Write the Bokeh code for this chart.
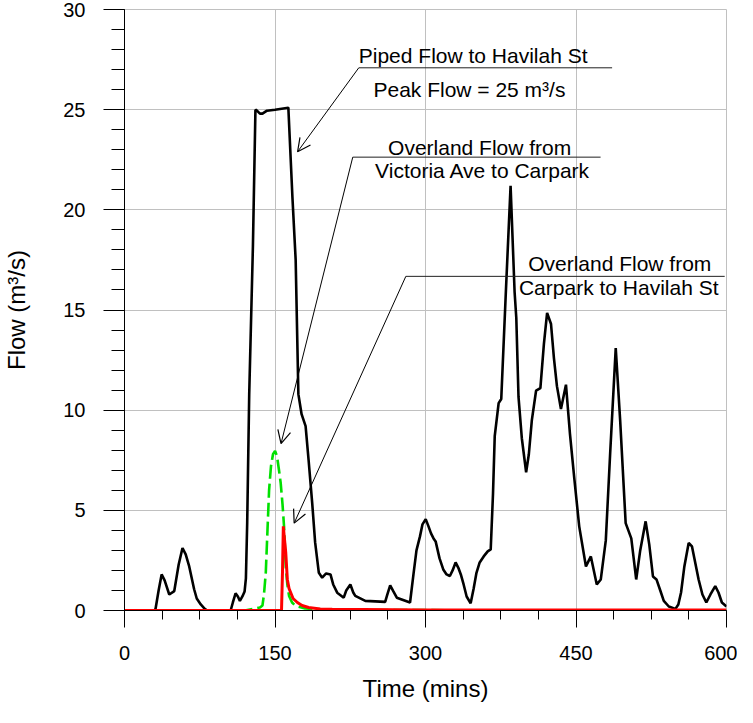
import numpy as np
from math import pi
from bokeh.plotting import figure
from bokeh.models import Range1d, FixedTicker, Label, Arrow, OpenHead
from bokeh.embed import file_html
from bokeh.resources import INLINE

# ---------------- data ----------------
x_ticks = [0, 150, 300, 450, 600]
y_ticks = [0, 5, 10, 15, 20, 25, 30]
x_minor = [i * 37.5 for i in range(17)]
y_minor = list(range(0, 31))

piped_t = [0, 30, 31, 34, 37, 40, 44.6, 49.6, 54, 57.8, 61, 64.5, 69.4, 72, 76, 80, 82.6,
           105.8, 108, 110.7, 113, 115, 117.5, 119.7, 121, 122.3, 124.3, 128, 130.5, 132,
           135, 137.5, 142, 150, 163.3, 167.3, 170.6, 173.3, 176.5, 180.5, 183.5, 187.1,
           190, 193.7, 197, 201, 205.3, 208, 212, 218.5, 221, 225.1, 228, 230, 240, 259.8,
           262, 264.8, 268, 271.4, 284.6, 288, 291, 294.5, 297, 300.2, 303, 305.5, 308,
           310.1, 314, 317.7, 321, 324.3, 327, 330, 333, 335.2, 338, 341, 345, 348, 350.8,
           354, 358, 362, 365, 367.3, 369, 372.9, 375.5, 380, 384.8, 388.8, 390.5, 392.7,
           396, 400.3, 403, 406, 410.2, 414.5, 418, 421.2, 425.1, 428, 431, 435, 440, 444,
           448.3, 453.2, 459.9, 464.8, 470.7, 474.7, 479.7, 484, 489.6, 494, 499.5, 505.1,
           510, 514, 519.4, 523, 526.7, 530.2, 534, 537.5, 542.5, 549.1, 552, 554.7, 558,
           562.3, 565.6, 568, 572.2, 576, 579.9, 584, 588.8, 592, 595.4, 600]
piped_q = [0, 0, 0.1, 1.0, 1.8, 1.5, 0.8, 0.97, 2.3, 3.12, 2.8, 2.2, 1.06, 0.6, 0.3, 0.08, 0,
           0, 0.4, 0.86, 0.7, 0.48, 0.7, 0.95, 1.6, 4.4, 10.8, 18.2, 25.0, 24.95,
           24.8, 24.8, 24.95, 25.0, 25.1, 20.7, 17.5, 10.8, 9.8, 9.2, 7.5, 5.35,
           3.4, 1.88, 1.64, 1.85, 1.8, 1.3, 0.89, 0.64, 1.0, 1.3, 0.9, 0.73, 0.48, 0.43,
           0.8, 1.25, 0.95, 0.64, 0.4, 1.8, 3.0, 3.7, 4.3, 4.56, 4.2, 3.85, 3.6,
           3.45, 2.6, 2.05, 1.8, 1.72, 2.0, 2.4, 2.1, 1.8, 1.3, 0.7, 0.36, 1.1, 1.88,
           2.4, 2.7, 2.95, 3.05, 5.85, 8.7, 10.35, 10.56, 15.8, 21.2, 15.9, 14.6, 10.66,
           8.6, 6.9, 7.8, 9.5, 10.97, 11.1, 13.3, 14.86, 14.3, 12.6, 11.2, 10.06, 11.27, 8.8,
           6.6, 4.2, 2.2, 2.7, 1.3, 1.55, 3.5, 7.8, 13.1, 9.5, 4.36, 3.6,
           1.55, 3.0, 4.45, 3.3, 1.7, 1.55, 1.0, 0.48, 0.2, 0.08, 0.3, 0.9, 2.2,
           3.37, 3.2, 2.6, 1.55, 0.8, 0.4, 0.8, 1.22, 0.9, 0.4, 0.2]

victoria_t = [0, 120, 125, 135, 137.5, 139, 140.8, 142.5, 144.1, 146, 148, 150.1, 152, 154,
              155.7, 157.5, 159, 160.7, 162.3, 164, 167, 170.6, 180, 200, 250, 600]
victoria_q = [0, 0, 0.05, 0.15, 0.25, 0.8, 1.88, 4.0, 6.0, 7.2, 7.8, 7.97, 7.7, 7.0,
              6.35, 5.3, 4.2, 2.2, 1.3, 0.73, 0.4, 0.23, 0.1, 0.05, 0.02, 0]

carpark_t = [0, 156.5, 157.5, 158.3, 159, 160.7, 162.3, 164, 165.6, 168, 172.3, 177,
             183.5, 195, 207, 300, 600]
carpark_q = [0, 0, 2.0, 4.2, 3.8, 2.9, 1.55, 1.1, 0.9, 0.6, 0.4, 0.25,
             0.15, 0.08, 0.06, 0.03, 0.02]

FONT = "Liberation Sans"

p = figure(width=737, height=707, x_range=Range1d(0, 600), y_range=Range1d(0, 30),
           output_backend="svg", toolbar_location=None,
           min_border_left=120, min_border_right=11, min_border_top=9, min_border_bottom=97)
p.background_fill_color = "white"
p.border_fill_color = "white"
p.outline_line_color = "#c0c0c0"

p.xaxis.ticker = FixedTicker(ticks=x_ticks, minor_ticks=x_minor)
p.yaxis.ticker = FixedTicker(ticks=y_ticks, minor_ticks=y_minor)
p.xaxis.axis_label = "Time (mins)"
p.yaxis.axis_label = "Flow (m³/s)"

for ax in (p.xaxis[0], p.yaxis[0]):
    ax.axis_line_color = "black"
    ax.major_tick_line_color = "black"
    ax.minor_tick_line_color = "black"
    ax.major_tick_in = 0
    ax.minor_tick_in = 0
    ax.major_label_text_font = FONT
    ax.major_label_text_font_size = "20px"
    ax.major_label_text_color = "black"
    ax.axis_label_text_font = FONT
    ax.axis_label_text_font_size = "24px"
    ax.axis_label_text_font_style = "normal"
    ax.axis_label_text_color = "black"

p.xaxis.major_tick_out = 17
p.xaxis.minor_tick_out = 9
p.xaxis.major_label_standoff = 18
p.xaxis.axis_label_standoff = 12
p.yaxis.major_tick_out = 21
p.yaxis.minor_tick_out = 13
p.yaxis.major_label_standoff = 18
p.yaxis.axis_label_standoff = 30

p.xgrid.grid_line_color = "#c0c0c0"
p.ygrid.grid_line_color = "#c0c0c0"
p.xgrid.grid_line_width = 1
p.ygrid.grid_line_width = 1

p.line(piped_t, piped_q, line_color="black", line_width=2.6)
p.line(victoria_t, victoria_q, line_color="#00e000", line_width=2.6, line_dash="14 5")
p.line(carpark_t, carpark_q, line_color="#ff0000", line_width=3)

# ---------------- annotations ----------------
def lab(x, y, text):
    p.add_layout(Label(x=x, y=y, text=text, text_align="center", text_baseline="middle",
                       text_font=FONT, text_font_size="21px", text_color="black"))

lab(347.5, 27.7, "Piped Flow to Havilah St")
lab(343.8, 26.0, "Peak Flow = 25 m³/s")
lab(354.0, 23.12, "Overland Flow from")
lab(357.0, 21.97, "Victoria Ave to Carpark")
lab(493.6, 17.34, "Overland Flow from")
lab(492.6, 16.10, "Carpark to Havilah St")

under_x0 = [233.5, 227.5, 280.4]
under_x1 = [486.0, 474.5, 598.2]
under_y = [27.09, 22.63, 16.68]
p.segment(under_x0, under_y, under_x1, under_y, line_color="#202020", line_width=1)

tips_x = [172.5, 156.0, 169.1]
tips_y = [22.9, 8.33, 4.36]
for sx, sy, ex, ey in zip(under_x0, under_y, tips_x, tips_y):
    p.add_layout(Arrow(end=OpenHead(size=13, line_width=1.2, line_color="black"),
                       x_start=sx, y_start=sy, x_end=ex, y_end=ey,
                       line_color="black", line_width=1))

# partially visible axis title of the neighbouring panel (cut by the picture edge)
p.add_layout(Label(x=601.5, y=15, text="Flow (m³/s)", angle=pi / 2, text_align="center",
                   text_baseline="top", text_font=FONT, text_font_size="24px",
                   text_color="black"))

open("out.html", "w").write(file_html(p, INLINE))
